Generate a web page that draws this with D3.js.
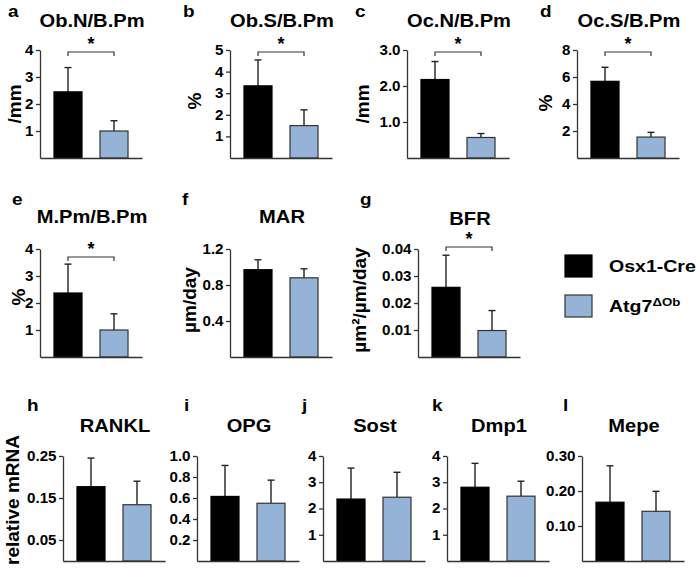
<!DOCTYPE html>
<html><head><meta charset="utf-8">
<script src="https://cdn.jsdelivr.net/npm/d3@7"></script>
<style>
body{margin:0;background:#fff}
text{font-family:"Liberation Sans",Arial,Helvetica,sans-serif;font-weight:bold;fill:#000}
</style>
</head><body>
<svg id="chart" width="700" height="569"></svg>
<script>
// ---------- data ----------
const panelLabels = ['a','b','c','d','e','f','g','h','i','j','k','l'];
const titles = ['Ob.N/B.Pm','Ob.S/B.Pm','Oc.N/B.Pm','Oc.S/B.Pm','M.Pm/B.Pm','MAR','BFR','RANKL','OPG','Sost','Dmp1','Mepe'];
const yTitles = ['/mm','%','/mm','%','%','µm/day','µm²/µm/day','','','','',''];
const groups = ['Osx1-Cre','Atg7'];
const ctrlMean = [2.45,3.34,2.18,5.68,2.37,0.97,0.0258,0.177,0.615,2.36,2.81,0.168];
const ctrlSD   = [0.90,1.20,0.50,1.04,1.07,0.11,0.0119,0.068,0.295,1.18,0.91,0.104];
const koMean   = [1.00,1.50,0.57,1.55,1.00,0.88,0.0098,0.134,0.550,2.43,2.47,0.142];
const koSD     = [0.38,0.73,0.11,0.35,0.60,0.10,0.0074,0.056,0.220,0.95,0.57,0.057];
const yMax     = [4,5,3,8,4,1.2,0.04,0.25,1,4,4,0.30];
const yTicks   = [[1,2,3,4],[1,2,3,4,5],[1,2,3],[2,4,6,8],[1,2,3,4],[0.4,0.8,1.2],
                  [0.01,0.02,0.03,0.04],[0.05,0.15,0.25],[0.2,0.4,0.6,0.8,1.0],[1,2,3,4],[1,2,3,4],[0.10,0.20,0.30]];
const tickFormats = ['d','d','.1f','d','d','.1f','.2f','.2f','.1f','d','d','.2f'];
const significant = [true,true,true,true,true,false,true,false,false,false,false,false];
const rowTitle = 'relative mRNA';
const legendLabels = ['Osx1-Cre','Atg7'];
const legendSup = ['', 'ΔOb'];

// ---------- layout ----------
const colors = ['#000000','#95b3d7'];
const strokes = ['#000000','#333333'];
const x0s = [40,230,407,577, 40,230,418, 63,197,323,447,582];
const rowOf = [0,0,0,0,1,1,1,2,2,2,2,2];
const rowZero = [158,357,561];
const rowTop = [50,249,456];
const titleBase = [27,223,432];
const labelPos = [[8,17],[183,17],[355,17],[540,17],[12,205],[182,205],[360,205],[27,411],[184,411],[302,411],[432,411],[563,411]];
const bracketY = [52,52,52,52,257,0,247];
const yTitlePos = [[14,104],[194,101],[362,104],[545,103],[18,297],[189,300],[359,300]];

const svg = d3.select('#chart');
const SX = 1.15;

function txt(g, x, y, s, size, anchor, sx) {
  return g.append('text')
    .attr('transform', `translate(${x},${y}) scale(${sx||SX},1)`)
    .attr('text-anchor', anchor || 'middle')
    .style('font-size', size + 'px')
    .text(s);
}

panelLabels.forEach((lab, i) => {
  const r = rowOf[i];
  const x0 = x0s[i];
  const g = svg.append('g');
  const y = d3.scaleLinear().domain([0, yMax[i]]).range([rowZero[r], rowTop[r]]);
  const x = d3.scaleBand().domain(groups).range([x0, x0 + 102]).paddingInner(0.391).paddingOuter(0.304);

  // panel label and title
  txt(g, labelPos[i][0], labelPos[i][1], lab, 16.5, 'start');
  txt(g, x0 + 52, titleBase[r] + (i === 6 ? 2 : 0), titles[i], 17.5, 'middle');

  // bars
  const means = [ctrlMean[i], koMean[i]];
  const sds = [ctrlSD[i], koSD[i]];
  groups.forEach((grp, k) => {
    const cx = x(grp) + x.bandwidth() / 2;
    g.append('line').attr('x1', cx).attr('x2', cx)
      .attr('y1', y(means[k])).attr('y2', y(means[k] + sds[k]))
      .attr('stroke', '#222').attr('stroke-width', 1.4);
    g.append('line').attr('x1', cx - 3.5).attr('x2', cx + 3.5)
      .attr('y1', y(means[k] + sds[k])).attr('y2', y(means[k] + sds[k]))
      .attr('stroke', '#222').attr('stroke-width', 1.4);
    g.append('rect')
      .attr('x', x(grp)).attr('y', y(means[k]))
      .attr('width', x.bandwidth()).attr('height', y(0) - y(means[k]))
      .attr('fill', colors[k]).attr('stroke', strokes[k]).attr('stroke-width', 1.2);
  });

  // y axis
  const ax = g.append('g').attr('transform', `translate(${x0},0)`)
    .call(d3.axisLeft(y).tickValues(yTicks[i]).tickSize(4).tickSizeOuter(0).tickPadding(2)
      .tickFormat(d3.format(tickFormats[i])));
  ax.select('.domain').attr('stroke', '#333').attr('stroke-width', 1.3);
  ax.selectAll('.tick line').attr('stroke', '#333').attr('stroke-width', 1.3);
  ax.selectAll('.tick text').attr('fill', '#000').style('font-size', '14px')
    .style('font-family', '"Liberation Sans",Arial,sans-serif').style('font-weight', 'bold')
    .attr('transform', 'scale(1.08,1)')
    .attr('x', -6.5 / 1.08);
  // x axis
  const bx = g.append('g').attr('transform', `translate(0,${y(0)})`)
    .call(d3.axisBottom(x).tickSize(0).tickSizeOuter(0).tickFormat(''));
  bx.select('.domain').attr('stroke', '#333').attr('stroke-width', 1.3);

  // significance
  if (significant[i]) {
    const by = bracketY[i];
    const c1 = x(groups[0]) + x.bandwidth() / 2, c2 = x(groups[1]) + x.bandwidth() / 2;
    g.append('path').attr('d', `M${c1},${by + 4}V${by}H${c2}V${by + 4}`)
      .attr('fill', 'none').attr('stroke', '#333').attr('stroke-width', 1.2);
    txt(g, (c1 + c2) / 2, by - 2, '*', 18, 'middle', 1);
  }

  // y title
  if (yTitles[i]) {
    g.append('text')
      .attr('transform', `translate(${yTitlePos[i][0]},${yTitlePos[i][1]}) rotate(-90)`)
      .attr('text-anchor', 'middle').attr('dominant-baseline', 'central')
      .style('font-size', '19px').text(yTitles[i]);
  }
});

// row title for bottom row
svg.append('text')
  .attr('transform', 'translate(12,500) rotate(-90)')
  .attr('text-anchor', 'middle').attr('dominant-baseline', 'central')
  .style('font-size', '19px').text(rowTitle);

// legend
legendLabels.forEach((l, k) => {
  const ly = 255 + k * 40;
  svg.append('rect').attr('x', 565).attr('y', ly).attr('width', 27).attr('height', 22)
    .attr('fill', colors[k]).attr('stroke', strokes[k]).attr('stroke-width', 1.2);
  const t = txt(svg, 609, ly + 17, l, 17, 'start', 1.15);
  if (legendSup[k]) {
    t.append('tspan').attr('dy', -6).style('font-size', '11.5px').text(legendSup[k]);
  }
});
</script>
</body></html>
